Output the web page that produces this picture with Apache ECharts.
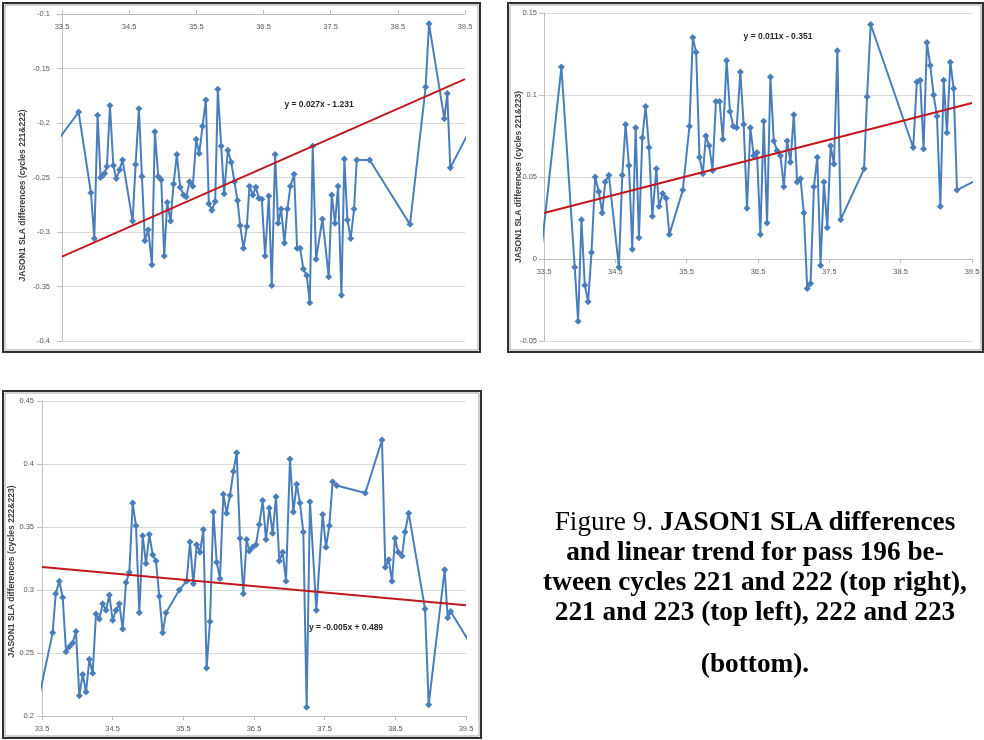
<!DOCTYPE html>
<html>
<head>
<meta charset="utf-8">
<script src="https://cdn.jsdelivr.net/npm/echarts@6/dist/echarts.min.js"></script>
<style>
  body { margin: 0; background: #fff; }
  #chart { position: absolute; left: 0; top: 0; width: 984px; height: 740px; }
  .cap {
    position: absolute; left: 535px; width: 440px; text-align: center;
    font-family: "Liberation Serif", "DejaVu Serif", serif; font-size: 27.3px;
    line-height: 30px; color: #000; white-space: nowrap; font-weight: bold;
  }
  .cap .n { font-weight: normal; }
</style>
</head>
<body>
<div id="chart"></div>
<div class="cap" style="top:506px"><span class="n">Figure 9. </span>JASON1 SLA differences</div>
<div class="cap" style="top:536px">and linear trend for pass 196 be-</div>
<div class="cap" style="top:566px">tween cycles 221 and 222 (top right),</div>
<div class="cap" style="top:596px">221 and 223 (top left), 222 and 223</div>
<div class="cap" style="top:648px">(bottom).</div>
<script>
// latitude vs SLA difference (first/last points lie just outside the axis range)
const diff221_222 = [
  [33.35,-0.223],[33.748,-0.190],[33.931,-0.264],[33.981,-0.306],[34.030,-0.193],[34.075,-0.250],
  [34.110,-0.248],[34.135,-0.246],[34.169,-0.240],[34.214,-0.184],[34.264,-0.239],[34.308,-0.251],
  [34.358,-0.243],[34.402,-0.234],[34.551,-0.290],[34.596,-0.238],[34.645,-0.187],[34.690,-0.249],
  [34.734,-0.308],[34.784,-0.298],[34.839,-0.330],[34.883,-0.208],[34.933,-0.249],[34.977,-0.252],
  [35.022,-0.322],[35.067,-0.273],[35.116,-0.290],[35.161,-0.256],[35.210,-0.229],[35.260,-0.259],
  [35.310,-0.266],[35.349,-0.268],[35.399,-0.254],[35.448,-0.258],[35.498,-0.215],[35.543,-0.228],
  [35.592,-0.203],[35.642,-0.179],[35.686,-0.274],[35.731,-0.280],[35.781,-0.272],[35.820,-0.169],
  [35.870,-0.221],[35.914,-0.265],[35.969,-0.225],[36.019,-0.236],[36.068,-0.254],[36.113,-0.271],
  [36.152,-0.294],[36.202,-0.315],[36.252,-0.295],[36.291,-0.258],[36.341,-0.266],[36.386,-0.259],
  [36.430,-0.269],[36.475,-0.270],[36.524,-0.322],[36.579,-0.267],[36.623,-0.349],[36.673,-0.229],
  [36.718,-0.292],[36.762,-0.279],[36.812,-0.310],[36.856,-0.279],[36.901,-0.258],[36.956,-0.247],
  [37.000,-0.315],[37.045,-0.315],[37.094,-0.334],[37.144,-0.340],[37.189,-0.365],[37.233,-0.221],
  [37.283,-0.325],[37.377,-0.288],[37.471,-0.341],[37.516,-0.266],[37.565,-0.292],[37.610,-0.258],
  [37.660,-0.358],[37.704,-0.233],[37.749,-0.289],[37.798,-0.306],[37.848,-0.279],[37.888,-0.234],
  [38.081,-0.234],[38.681,-0.293],[38.914,-0.167],[38.964,-0.109],[39.192,-0.196],[39.236,-0.173],
  [39.281,-0.241],[39.62,-0.201]
];
const trend221_222 = [[33.5,-0.3226],[39.5,-0.1597]];

const diff221_223 = [
  [33.45,0.000],[33.744,0.117],[33.931,-0.005],[33.978,-0.038],[34.025,0.024],[34.072,-0.016],
  [34.119,-0.026],[34.166,0.004],[34.217,0.050],[34.269,0.041],[34.316,0.028],[34.358,0.047],
  [34.410,0.051],[34.550,-0.005],[34.597,0.051],[34.644,0.082],[34.691,0.057],[34.738,0.006],
  [34.785,0.080],[34.831,0.013],[34.878,0.074],[34.925,0.093],[34.972,0.068],[35.019,0.026],
  [35.075,0.055],[35.113,0.032],[35.164,0.040],[35.211,0.037],[35.258,0.015],[35.446,0.042],
  [35.539,0.081],[35.586,0.135],[35.633,0.126],[35.680,0.062],[35.727,0.052],[35.769,0.075],
  [35.816,0.069],[35.863,0.054],[35.910,0.096],[35.961,0.096],[36.008,0.073],[36.060,0.121],
  [36.107,0.090],[36.154,0.081],[36.201,0.080],[36.252,0.114],[36.299,0.082],[36.346,0.031],
  [36.393,0.080],[36.440,0.063],[36.486,0.065],[36.533,0.015],[36.580,0.084],[36.627,0.022],
  [36.674,0.111],[36.721,0.072],[36.768,0.066],[36.815,0.063],[36.862,0.044],[36.908,0.072],
  [36.955,0.059],[37.002,0.088],[37.049,0.047],[37.096,0.049],[37.143,0.028],[37.190,-0.018],
  [37.237,-0.015],[37.284,0.044],[37.331,0.062],[37.377,-0.004],[37.424,0.047],[37.471,0.019],
  [37.518,0.069],[37.565,0.058],[37.612,0.127],[37.659,0.024],[37.987,0.055],[38.029,0.099],
  [38.080,0.143],[38.676,0.068],[38.727,0.108],[38.774,0.109],[38.821,0.067],[38.868,0.132],
  [38.915,0.118],[38.962,0.100],[39.009,0.087],[39.056,0.032],[39.103,0.109],[39.149,0.077],
  [39.196,0.120],[39.243,0.104],[39.290,0.042],[39.6,0.049]
];
const trend221_223 = [[33.5,0.028],[39.5,0.0951]];

const diff222_223 = [
  [33.42,0.205],[33.651,0.266],[33.694,0.297],[33.745,0.307],[33.793,0.294],[33.840,0.251],
  [33.887,0.255],[33.934,0.258],[33.981,0.267],[34.028,0.216],[34.076,0.233],[34.123,0.219],
  [34.170,0.245],[34.217,0.234],[34.264,0.281],[34.311,0.277],[34.359,0.289],[34.406,0.284],
  [34.453,0.296],[34.500,0.276],[34.547,0.284],[34.594,0.289],[34.642,0.269],[34.689,0.306],
  [34.736,0.314],[34.783,0.369],[34.830,0.351],[34.877,0.282],[34.925,0.343],[34.972,0.321],
  [35.019,0.344],[35.066,0.328],[35.113,0.323],[35.160,0.295],[35.208,0.266],[35.255,0.282],
  [35.443,0.300],[35.547,0.307],[35.594,0.338],[35.642,0.305],[35.689,0.336],[35.736,0.330],
  [35.783,0.348],[35.830,0.238],[35.877,0.275],[35.925,0.362],[35.972,0.322],[36.019,0.309],
  [36.066,0.376],[36.113,0.361],[36.160,0.375],[36.208,0.394],[36.255,0.409],[36.302,0.341],
  [36.349,0.297],[36.396,0.340],[36.434,0.331],[36.481,0.334],[36.528,0.336],[36.575,0.352],
  [36.623,0.371],[36.670,0.340],[36.717,0.365],[36.764,0.345],[36.811,0.374],[36.858,0.323],
  [36.906,0.330],[36.953,0.307],[37.009,0.404],[37.057,0.362],[37.104,0.384],[37.151,0.369],
  [37.198,0.346],[37.245,0.207],[37.292,0.370],[37.382,0.284],[37.472,0.360],[37.519,0.334],
  [37.566,0.351],[37.613,0.386],[37.670,0.383],[38.075,0.377],[38.311,0.419],[38.358,0.318],
  [38.406,0.324],[38.453,0.307],[38.495,0.341],[38.542,0.330],[38.594,0.327],[38.637,0.346],
  [38.689,0.361],[38.920,0.285],[38.972,0.209],[39.198,0.316],[39.241,0.278],[39.283,0.283],
  [39.62,0.252]
];
const trend222_223 = [[33.5,0.3183],[39.5,0.2879]];

const yTitles = ['JASON1 SLA differences (cycles 221&222)', 'JASON1 SLA differences (cycles 221&223)', 'JASON1 SLA differences (cycles 222&223)'];
const trendLabels = ['y = 0.027x - 1.231', 'y = 0.011x - 0.351', 'y = -0.005x + 0.489'];

const FONT = '"Liberation Sans", Arial, sans-serif';
const BLUE = '#4A7EBB';
const RED = '#C0181E';

const chart = echarts.init(document.getElementById('chart'));

function fmt(v) { return String(+v.toFixed(2)); }

function xAx(i, extra) {
  return Object.assign({
    gridIndex: i, type: 'value', min: 33.5, max: 39.5, interval: 1,
    axisLine: { onZero: false, lineStyle: { color: '#BFBFBF' } },
    axisTick: { show: true, length: 4, lineStyle: { color: '#BFBFBF' } },
    splitLine: { show: false },
    axisLabel: { color: '#595959', fontSize: 7.5, fontFamily: FONT, margin: 9, formatter: fmt }
  }, extra);
}
function yAx(i, min, max, gap, pad, margin) {
  return {
    gridIndex: i, type: 'value', min: min, max: max, interval: 0.05,
    name: yTitles[i], nameLocation: 'middle', nameGap: gap, nameMoveOverlap: false,
    nameTextStyle: { fontSize: 8.5, fontWeight: 'bold', color: '#404040', fontFamily: FONT, padding: [0, pad, 0, 0] },
    axisLine: { show: true, onZero: false, lineStyle: { color: '#BFBFBF' } },
    axisTick: { show: true, length: 5, lineStyle: { color: '#BFBFBF' } },
    splitLine: { lineStyle: { color: '#D9D9D9' } },
    axisLabel: { color: '#595959', fontSize: 7.5, fontFamily: FONT, margin: margin, formatter: fmt }
  };
}
function dataSeries(i, pts) {
  return {
    type: 'line', xAxisIndex: i, yAxisIndex: i, data: pts,
    symbol: 'diamond', symbolSize: 7, showSymbol: true,
    itemStyle: { color: BLUE }, lineStyle: { color: BLUE, width: 2 },
    emphasis: { disabled: true }, animation: false, z: 2
  };
}
function trendSeries(i, pts) {
  return {
    type: 'line', xAxisIndex: i, yAxisIndex: i, data: pts, symbol: 'none',
    lineStyle: { color: RED, width: 2 }, animation: false, z: 3
  };
}
function box(x, y, w, h) {
  return [
    { type: 'rect', shape: { x: x, y: y, width: w, height: h }, style: { fill: 'none', stroke: '#303030', lineWidth: 2 } },
    { type: 'rect', shape: { x: x + 2, y: y + 2, width: w - 4, height: h - 4 }, style: { fill: 'none', stroke: '#A6A6A6', lineWidth: 1 } }
  ];
}
function eq(i, x, y) {
  return { type: 'text', x: x, y: y, style: { text: trendLabels[i], fill: '#262626', font: 'bold 8.5px ' + FONT, align: 'center', verticalAlign: 'middle' } };
}

chart.setOption({
  animation: false,
  grid: [
    { left: 62, top: 14, width: 403, height: 327 },
    { left: 544, top: 13, width: 428, height: 328 },
    { left: 42, top: 401, width: 424, height: 315 }
  ],
  xAxis: [
    xAx(0, { position: 'top', axisLabel: { inside: true, color: '#595959', fontSize: 7.5, fontFamily: FONT, margin: 9, formatter: fmt } }),
    // horizontal axis of the top-right panel crosses at y = 0 (a quarter of the way up the plot)
    xAx(1, { offset: -82 }),
    xAx(2, {})
  ],
  yAxis: [
    yAx(0, -0.4, -0.1, 35, 36, 12),
    yAx(1, -0.05, 0.15, 21, 0, 7),
    yAx(2, 0.2, 0.45, 26, 26, 8)
  ],
  series: [
    dataSeries(0, diff221_222), trendSeries(0, trend221_222),
    dataSeries(1, diff221_223), trendSeries(1, trend221_223),
    dataSeries(2, diff222_223), trendSeries(2, trend222_223)
  ],
  graphic: [].concat(
    box(3, 3, 477, 349), box(508, 3, 475, 349), box(3, 391, 478, 347),
    [eq(0, 319, 105), eq(1, 778, 37), eq(2, 346, 628)]
  )
});
</script>
</body>
</html>
